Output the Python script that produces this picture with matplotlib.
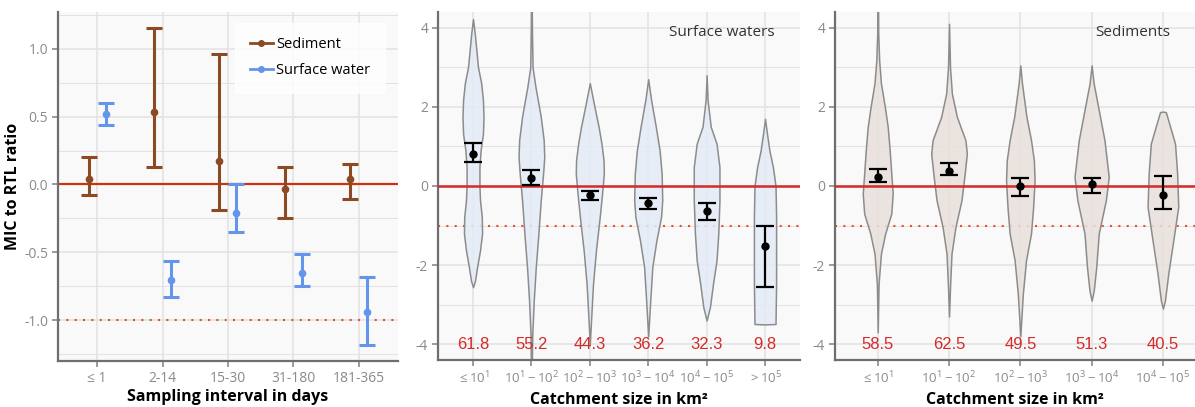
import numpy as np
import matplotlib
matplotlib.use("Agg")
import matplotlib.pyplot as plt
from matplotlib.ticker import MultipleLocator

plt.rcParams['font.family'] = ['Open Sans', 'DejaVu Sans']
plt.rcParams['mathtext.fontset'] = 'custom'
plt.rcParams['mathtext.rm'] = 'Open Sans'
plt.rcParams['mathtext.it'] = 'Open Sans:italic'
plt.rcParams['mathtext.default'] = 'regular'

# ---- panel 1: sampling interval ----
intervals = ['≤ 1', '2-14', '15-30', '31-180', '181-365']
sed_mean = [0.04, 0.53, 0.17, -0.03, 0.04]
sed_low = [-0.08, 0.13, -0.19, -0.25, -0.11]
sed_high = [0.20, 1.15, 0.96, 0.13, 0.15]
sw_mean = [0.52, -0.70, -0.21, -0.65, -0.94]
sw_low = [0.44, -0.83, -0.35, -0.75, -1.18]
sw_high = [0.60, -0.56, 0.00, -0.51, -0.68]

# ---- panel 2: surface waters by catchment size ----
sw_labels = [r'$\leq 10^1$', r'$10^1 - 10^2$', r'$10^2 - 10^3$', r'$10^3 - 10^4$',
             r'$10^4 - 10^5$', r'$> 10^5$']
sw_ci_mean = [0.82, 0.21, -0.24, -0.42, -0.63, -1.52]
sw_ci_low = [0.61, 0.03, -0.36, -0.57, -0.87, -2.56]
sw_ci_high = [1.09, 0.40, -0.13, -0.30, -0.43, -1.02]
sw_pct = ['61.8', '55.2', '44.3', '36.2', '32.3', '9.8']
# violin outlines: y values and half widths
sw_vy = [
    [-2.56, -2.39, -2.05, -1.63, -1.2, -0.78, -0.36, 0.0, 0.48, 0.9, 1.32, 1.75, 2.17, 2.6, 3.01, 3.86, 4.22],
    [-4.8, -3.74, -2.9, -2.05, -1.2, -0.36, 0.31, 0.73, 1.16, 1.75, 2.17, 2.5, 3.0, 3.86, 4.8],
    [-4.0, -3.3, -2.47, -1.63, -0.78, -0.19, 0.31, 0.65, 1.07, 1.5, 2.0, 2.34, 2.6],
    [-3.8, -2.9, -2.05, -1.38, -0.78, -0.36, 0.31, 0.9, 1.5, 2.17, 2.7],
    [-3.4, -3.06, -2.47, -1.88, -1.2, -0.36, 0.48, 1.07, 1.5, 2.17, 2.8],
    [-3.5, -3.49, -2.47, -1.63, -0.78, 0.0, 0.48, 0.9, 1.32, 1.7],
]
sw_vw = [
    [0.0, 0.035, 0.07, 0.12, 0.155, 0.15, 0.12, 0.11, 0.11, 0.13, 0.17, 0.18, 0.17, 0.14, 0.085, 0.03, 0.0],
    [0.004, 0.015, 0.04, 0.075, 0.12, 0.16, 0.2, 0.22, 0.21, 0.16, 0.11, 0.07, 0.02, 0.01, 0.004],
    [0.0, 0.025, 0.055, 0.105, 0.17, 0.21, 0.24, 0.235, 0.2, 0.15, 0.08, 0.035, 0.0],
    [0.0, 0.035, 0.07, 0.14, 0.22, 0.24, 0.23, 0.195, 0.13, 0.05, 0.0],
    [0.0, 0.057, 0.11, 0.17, 0.2, 0.22, 0.22, 0.17, 0.07, 0.017, 0.0],
    [0.0, 0.18, 0.19, 0.19, 0.19, 0.18, 0.135, 0.075, 0.034, 0.0],
]

# ---- panel 3: sediments by catchment size ----
sd_labels = [r'$\leq 10^1$', r'$10^1 - 10^2$', r'$10^2 - 10^3$', r'$10^3 - 10^4$',
             r'$10^4 - 10^5$']
sd_ci_mean = [0.23, 0.38, 0.0, 0.05, -0.22]
sd_ci_low = [0.10, 0.27, -0.25, -0.18, -0.58]
sd_ci_high = [0.43, 0.58, 0.20, 0.20, 0.26]
sd_pct = ['58.5', '62.5', '49.5', '51.3', '40.5']
sd_vy = [
    [-3.7, -2.47, -1.71, -1.2, -0.7, -0.19, 0.31, 0.9, 1.5, 2.0, 2.6, 3.18, 3.86, 4.8],
    [-3.3, -2.47, -1.71, -1.04, -0.36, 0.31, 0.82, 1.16, 1.75, 2.34, 3.0, 4.1],
    [-3.8, -2.73, -1.88, -1.2, -0.53, 0.14, 0.65, 1.16, 1.75, 2.6, 3.05],
    [-2.9, -2.64, -2.05, -1.2, -0.36, 0.23, 1.16, 1.92, 2.6, 3.05],
    [-3.1, -2.9, -2.22, -1.38, -0.53, 0.31, 1.07, 1.66, 1.87, 1.88],
]
sd_vw = [
    [0.0, 0.012, 0.045, 0.105, 0.19, 0.21, 0.19, 0.168, 0.14, 0.1, 0.045, 0.02, 0.007, 0.004],
    [0.0, 0.016, 0.035, 0.09, 0.175, 0.22, 0.25, 0.23, 0.11, 0.04, 0.014, 0.0],
    [0.0, 0.035, 0.08, 0.15, 0.18, 0.2, 0.19, 0.15, 0.086, 0.023, 0.0],
    [0.0, 0.03, 0.065, 0.1, 0.2, 0.24, 0.18, 0.1, 0.028, 0.0],
    [0.0, 0.028, 0.075, 0.145, 0.215, 0.2, 0.17, 0.075, 0.04, 0.0],
]

GRID = '#e2e2e2'
BG = '#f9f9f9'
SPINE = '#6e6e6e'
TICKC = '#8a8a8a'
DOT = '#e8502a'


def style_axes(ax, ymin, ymax, major, minor):
    ax.set_facecolor(BG)
    ax.set_ylim(ymin, ymax)
    ax.yaxis.set_major_locator(MultipleLocator(major))
    ax.yaxis.set_minor_locator(MultipleLocator(minor))
    ax.grid(True, which='major', color=GRID, linewidth=1.1, zorder=0)
    ax.grid(True, which='minor', axis='y', color=GRID, linewidth=0.7, zorder=0)
    ax.set_axisbelow(True)
    for s in ['top', 'right']:
        ax.spines[s].set_visible(False)
    for s in ['left', 'bottom']:
        ax.spines[s].set_color(SPINE)
        ax.spines[s].set_linewidth(1.6)
    ax.tick_params(axis='both', which='major', colors=TICKC, labelsize=10,
                   length=4, width=1.2, pad=3)
    ax.tick_params(axis='both', which='minor', length=0)


fig = plt.figure(figsize=(11.95, 4.07), dpi=100)
ax1 = fig.add_axes([0.0485, 0.113, 0.2845, 0.8575])
ax2 = fig.add_axes([0.3665, 0.1155, 0.303, 0.855])
ax3 = fig.add_axes([0.6987, 0.1155, 0.3013, 0.855])

# panel 1
style_axes(ax1, -1.30, 1.27, 0.5, 0.25)
x = np.arange(1, len(intervals) + 1)
ax1.axhline(0, color='#cc3311', linewidth=1.6, zorder=1)
ax1.axhline(-1, color=DOT, linewidth=1.5, linestyle=(0, (1, 3)), zorder=1)
sed_c = '#8b4a24'
sw_c = '#6495ed'
ax1.errorbar(x - 0.13, sed_mean,
             yerr=[np.array(sed_mean) - np.array(sed_low), np.array(sed_high) - np.array(sed_mean)],
             fmt='o', color=sed_c, markersize=4.5, elinewidth=2.2, capsize=6, capthick=2.2,
             label='Sediment', zorder=3)
ax1.errorbar(x + 0.13, sw_mean,
             yerr=[np.array(sw_mean) - np.array(sw_low), np.array(sw_high) - np.array(sw_mean)],
             fmt='o', color=sw_c, markersize=4.5, elinewidth=2.2, capsize=6, capthick=2.2,
             label='Surface water', zorder=3)
ax1.set_xlim(0.4, 5.6)
ax1.set_xticks(x)
ax1.set_xticklabels(intervals)
ax1.set_yticks([-1.0, -0.5, 0.0, 0.5, 1.0])
ax1.set_yticklabels(['-1.0', '-0.5', '0.0', '0.5', '1.0'])
ax1.set_xlabel('Sampling interval in days', fontsize=11.5, fontweight='bold', labelpad=2)
ax1.set_ylabel('MIC to RTL ratio', fontsize=11.5, fontweight='bold', labelpad=2)
h1 = plt.Line2D([], [], color=sed_c, marker='o', markersize=4, linewidth=2)
h2 = plt.Line2D([], [], color=sw_c, marker='o', markersize=4, linewidth=2)
leg = ax1.legend([h1, h2], ['Sediment', 'Surface water'], loc='upper right',
                 bbox_to_anchor=(0.982, 0.99), frameon=True, fancybox=False,
                 fontsize=10.5, handlelength=1.6, handletextpad=0.2,
                 borderpad=1.0, labelspacing=0.75)
leg.get_frame().set_facecolor('white')
leg.get_frame().set_edgecolor('white')


def violin_panel(ax, labels, vy, vw, cmean, clow, chigh, pct, fill, title):
    style_axes(ax, -4.4, 4.4, 2, 1)
    pos = np.arange(1, len(labels) + 1)
    ax.axhline(-1, color=DOT, linewidth=1.5, linestyle=(0, (1, 3)), zorder=1)
    stats = []
    widths = []
    for ys, ws in zip(vy, vw):
        ys = np.array(ys)
        ws = np.array(ws)
        stats.append({'coords': ys, 'vals': ws, 'mean': 0, 'median': 0,
                      'min': ys.min(), 'max': ys.max()})
        widths.append(2 * ws.max())
    parts = ax.violin(stats, positions=pos, widths=widths, showmeans=False,
                      showextrema=False, showmedians=False)
    for b in parts['bodies']:
        b.set_facecolor(fill)
        b.set_edgecolor('#8c8c8c')
        b.set_linewidth(1.1)
        b.set_alpha(None)
        b.set_zorder(2)
    ax.axhline(0, color='#d42a2a', linewidth=1.8, zorder=3)
    cm = np.array(cmean)
    ax.errorbar(pos, cm, yerr=[cm - np.array(clow), np.array(chigh) - cm],
                fmt='o', color='black', markersize=5, elinewidth=1.6, capsize=6.5,
                capthick=1.6, zorder=4)
    for p, t in zip(pos, pct):
        ax.text(p, -4.0, t, ha='center', va='center', color='#d42a2a',
                fontsize=12, family='Liberation Sans', zorder=5)
    ax.text(0.93, 0.94, title, transform=ax.transAxes, ha='right', va='center',
            fontsize=11, color='#333333')
    ax.set_xticks(pos)
    ax.set_xticklabels(labels, fontsize=9.5)
    ax.set_yticks([-4, -2, 0, 2, 4])
    ax.set_yticklabels(['-4', '-2', '0', '2', '4'])
    ax.set_xlabel('Catchment size in km²', fontsize=11.5, fontweight='bold', labelpad=4)


violin_panel(ax2, sw_labels, sw_vy, sw_vw, sw_ci_mean, sw_ci_low, sw_ci_high, sw_pct,
             (0.89, 0.92, 0.97, 0.85), 'Surface waters')
ax2.set_xlim(0.4, 6.6)
violin_panel(ax3, sd_labels, sd_vy, sd_vw, sd_ci_mean, sd_ci_low, sd_ci_high, sd_pct,
             (0.91, 0.88, 0.86, 0.85), 'Sediments')
ax3.set_xlim(0.4, 5.45)

fig.savefig('out.png', dpi=100)
